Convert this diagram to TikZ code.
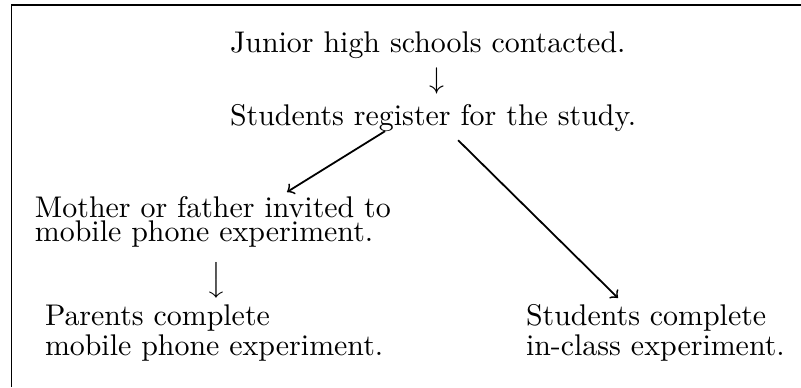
\documentclass[tikz,border=0pt]{standalone}
\usetikzlibrary{calc}
\begin{document}
\begin{tikzpicture}[x=0.3344pt,y=-0.3344pt,
  txt/.style={inner sep=0pt,outer sep=0pt,anchor=base west,font=\fontsize{10}{12}\selectfont},
  twoline/.style={inner sep=0pt,outer sep=0pt,anchor=base west,align=left,font=\fontsize{10}{#1}\selectfont},
  glyph/.style={inner sep=0pt,outer sep=0pt},
  conn/.style={->,line width=0.6pt},
  frame/.style={line width=0.5pt}]
\useasboundingbox (0,0) rectangle (801,387);
\draw[frame] (11.5,387) -- (11.5,5) -- (801,5);
\node[txt] (J) at (230,52) {Junior high schools contacted.};
\node[glyph] (a1) at (437,81) {$\downarrow$};
\node[txt] (S) at (230,125) {Students register for the study.};
\node[twoline=6.3pt] (M) at (35,241.5) {Mother or father invited to\\mobile phone experiment.};
\node[glyph] (a2) at (216.7,280) {$\big\downarrow$};
\node[twoline=8.3pt] (P) at (45,355) {Parents complete\\mobile phone experiment.};
\node[twoline=8.3pt] (C) at (526,355) {Students complete\\in-class experiment.};
\draw[conn] ($(S.south)+(-48,0)$) -- ($(M.base west)+(252,-49.5)$);
\draw[conn] ($(S.south)+(25,9)$) -- ($(C.base west)+(92,-57)$);
\end{tikzpicture}
\end{document}
